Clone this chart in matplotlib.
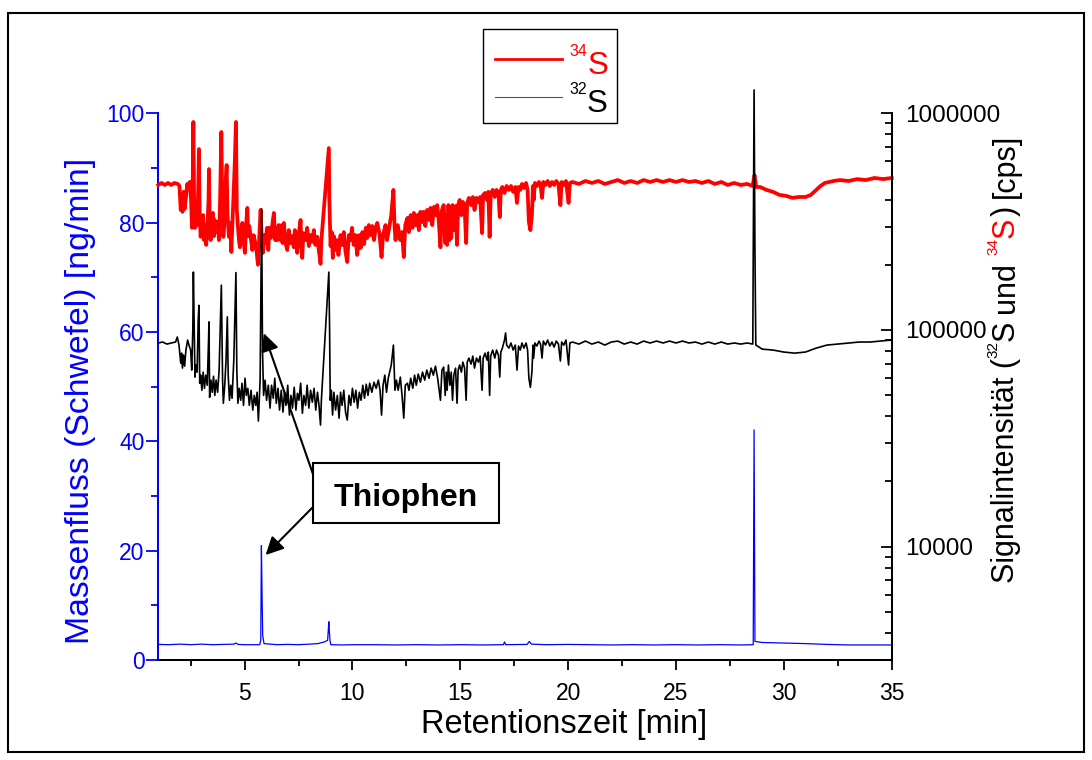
import matplotlib
matplotlib.use("Agg")
import matplotlib.pyplot as plt
from matplotlib.patches import Rectangle
from matplotlib.lines import Line2D
from matplotlib.ticker import MultipleLocator, LogLocator, FuncFormatter, NullFormatter

W, H, DPI = 1092, 760, 100
plt.rcParams['font.family'] = ['Liberation Sans', 'DejaVu Sans']

# ---------------- data ----------------
# 34S trace (cps, right log axis)
t_34S = [1.00, 1.15, 1.30, 1.45, 1.60, 1.75, 1.90, 1.98, 2.04, 2.08, 2.12, 2.17, 2.22, 2.28, 2.34,
         2.40, 2.46, 2.52, 2.56, 2.60, 2.626, 2.66, 2.70, 2.75, 2.80, 2.85, 2.885, 2.92, 2.964,
         3.00, 3.04, 3.08, 3.117, 3.17, 3.22, 3.27, 3.33, 3.348, 3.38, 3.427, 3.48, 3.53, 3.58,
         3.62, 3.70, 3.76, 3.811, 3.86, 3.923, 3.96, 4.015, 4.05, 4.10, 4.168, 4.21, 4.275, 4.33,
         4.386, 4.45, 4.55, 4.599, 4.64, 4.691, 4.74, 4.784, 4.83, 4.895, 4.95, 5.016, 5.07, 5.127,
         5.17, 5.22, 5.30, 5.358, 5.42, 5.50, 5.56, 5.618, 5.68, 5.743, 5.79, 5.85, 5.92, 5.975,
         6.04, 6.10, 6.15, 6.22, 6.30, 6.359, 6.42, 6.47, 6.516, 6.58, 6.669, 6.72, 6.76, 6.822,
         6.90, 6.98, 7.05, 7.13, 7.211, 7.28, 7.33, 7.40, 7.443, 7.50, 7.596, 7.63, 7.674, 7.72,
         7.827, 7.90, 7.98, 8.05, 8.12, 8.212, 8.28, 8.369, 8.44, 8.522, 8.56, 8.906, 8.93, 8.985,
         9.04, 9.09, 9.138, 9.20, 9.296, 9.35, 9.448, 9.52, 9.60, 9.68, 9.759, 9.83, 9.911, 9.98,
         10.06, 10.14, 10.222, 10.30, 10.38, 10.46, 10.54, 10.62, 10.685, 10.76, 10.838, 10.92,
         11.00, 11.08, 11.148, 11.25, 11.35, 11.42, 11.533, 11.60, 11.686, 11.80, 11.90, 11.95,
         11.996, 12.10, 12.22, 12.30, 12.38, 12.45, 12.55, 12.62, 12.70, 12.78, 12.85, 12.92,
         13.00, 13.08, 13.15, 13.22, 13.30, 13.38, 13.46, 13.55, 13.62, 13.70, 13.78, 13.85,
         13.93, 14.00, 14.08, 14.15, 14.23, 14.30, 14.35, 14.39, 14.45, 14.50, 14.54, 14.58,
         14.64, 14.70, 14.78, 14.85, 14.90, 14.97, 15.05, 15.12, 15.20, 15.27, 15.32, 15.40,
         15.50, 15.58, 15.66, 15.75, 15.84, 15.92, 16.01, 16.06, 16.15, 16.24, 16.30, 16.36,
         16.41, 16.50, 16.60, 16.68, 16.77, 16.83, 16.88, 16.95, 17.05, 17.15, 17.25, 17.35,
         17.45, 17.55, 17.63, 17.70, 17.78, 17.86, 17.95, 18.05, 18.12, 18.18, 18.25, 18.32,
         18.37, 18.40, 18.46, 18.55, 18.65, 18.72, 18.79, 18.85, 18.95, 19.05, 19.15, 19.25,
         19.35, 19.45, 19.55, 19.64, 19.70, 19.80, 19.90, 20.02, 20.08, 20.2, 20.5, 20.8, 21.1,
         21.4, 21.7, 22.0, 22.3, 22.6, 22.9, 23.2, 23.5, 23.8, 24.1, 24.4, 24.7, 25.0, 25.3, 25.6,
         25.9, 26.2, 26.5, 26.8, 27.1, 27.4, 27.7, 28.0, 28.3, 28.55, 28.64, 28.72, 28.9, 29.2,
         29.5, 29.8, 30.1, 30.4, 30.7, 31.0, 31.25, 31.5, 31.7, 31.9, 32.3, 32.6, 33.0, 33.4,
         33.8, 34.2, 34.6, 35.0]
cps_34S = [467e3, 477e3, 467e3, 477e3, 467e3, 477e3, 472e3, 462e3, 358e3, 420e3, 351e3, 434e3,
           362e3, 407e3, 472e3, 452e3, 482e3, 398e3, 296e3, 519e3, 912e3, 398e3, 296e3, 358e3,
           305e3, 443e3, 684e3, 339e3, 269e3, 315e3, 271e3, 339e3, 260e3, 305e3, 247e3, 289e3,
           398e3, 553e3, 339e3, 260e3, 305e3, 347e3, 271e3, 322e3, 283e3, 315e3, 260e3, 377e3,
           820e3, 398e3, 269e3, 296e3, 443e3, 577e3, 339e3, 269e3, 312e3, 229e3, 339e3, 609e3,
           912e3, 358e3, 299e3, 260e3, 241e3, 283e3, 312e3, 260e3, 227e3, 305e3, 366e3, 271e3,
           302e3, 260e3, 234e3, 274e3, 252e3, 229e3, 200e3, 266e3, 358e3, 271e3, 227e3, 274e3,
           252e3, 296e3, 234e3, 296e3, 266e3, 315e3, 347e3, 260e3, 296e3, 260e3, 305e3, 260e3,
           305e3, 252e3, 312e3, 252e3, 234e3, 289e3, 252e3, 271e3, 241e3, 289e3, 252e3, 227e3,
           274e3, 322e3, 247e3, 215e3, 280e3, 260e3, 296e3, 244e3, 274e3, 255e3, 289e3, 247e3,
           269e3, 234e3, 202e3, 260e3, 691e3, 398e3, 244e3, 283e3, 215e3, 271e3, 234e3, 260e3,
           222e3, 274e3, 247e3, 283e3, 229e3, 206e3, 274e3, 260e3, 296e3, 247e3, 274e3, 222e3,
           274e3, 239e3, 283e3, 249e3, 296e3, 266e3, 305e3, 274e3, 302e3, 260e3, 296e3, 312e3,
           280e3, 217e3, 274e3, 305e3, 260e3, 289e3, 339e3, 443e3, 305e3, 260e3, 305e3, 260e3,
           283e3, 217e3, 305e3, 329e3, 283e3, 339e3, 296e3, 347e3, 305e3, 339e3, 289e3, 351e3,
           315e3, 351e3, 302e3, 358e3, 322e3, 366e3, 305e3, 370e3, 339e3, 377e3, 322e3, 241e3,
           358e3, 377e3, 252e3, 339e3, 247e3, 377e3, 260e3, 339e3, 266e3, 377e3, 289e3, 373e3,
           247e3, 377e3, 398e3, 339e3, 390e3, 370e3, 252e3, 386e3, 407e3, 377e3, 411e3, 358e3,
           407e3, 390e3, 411e3, 280e3, 420e3, 429e3, 398e3, 434e3, 269e3, 420e3, 443e3, 411e3,
           443e3, 429e3, 332e3, 443e3, 457e3, 429e3, 462e3, 443e3, 462e3, 434e3, 457e3, 386e3,
           457e3, 443e3, 472e3, 452e3, 477e3, 443e3, 315e3, 289e3, 339e3, 462e3, 398e3, 477e3,
           462e3, 482e3, 467e3, 407e3, 482e3, 467e3, 487e3, 462e3, 482e3, 467e3, 487e3, 472e3,
           377e3, 482e3, 467e3, 487e3, 386e3, 477e3, 482e3, 472e3, 487e3, 477e3, 487e3, 472e3,
           482e3, 492e3, 477e3, 487e3, 477e3, 492e3, 482e3, 492e3, 482e3, 492e3, 482e3, 492e3,
           482e3, 487e3, 477e3, 487e3, 472e3, 482e3, 467e3, 477e3, 467e3, 472e3, 462e3, 519e3,
           457e3, 457e3, 443e3, 434e3, 420e3, 416e3, 407e3, 411e3, 411e3, 420e3, 443e3, 462e3,
           477e3, 487e3, 492e3, 487e3, 497e3, 492e3, 503e3, 497e3, 503e3]

# 32S trace (cps, right log axis)
t_32S = [1.00, 1.20, 1.40, 1.60, 1.80, 1.88, 1.96, 2.04, 2.08, 2.12, 2.17, 2.22, 2.28, 2.36, 2.42,
         2.50, 2.55, 2.60, 2.626, 2.66, 2.70, 2.74, 2.80, 2.85, 2.885, 2.92, 2.964, 3.02, 3.08,
         3.14, 3.20, 3.27, 3.33, 3.348, 3.38, 3.44, 3.50, 3.56, 3.62, 3.68, 3.75, 3.82, 3.923,
         3.98, 4.015, 4.08, 4.14, 4.20, 4.24, 4.30, 4.36, 4.42, 4.50, 4.599, 4.64, 4.69, 4.75,
         4.82, 4.88, 4.95, 5.02, 5.08, 5.15, 5.22, 5.30, 5.38, 5.45, 5.52, 5.58, 5.64, 5.72, 5.79,
         5.83, 5.88, 5.95, 6.02, 6.10, 6.18, 6.25, 6.33, 6.40, 6.47, 6.55, 6.62, 6.70, 6.78, 6.85,
         6.92, 7.00, 7.08, 7.15, 7.22, 7.30, 7.38, 7.45, 7.52, 7.60, 7.68, 7.75, 7.83, 7.90, 7.98,
         8.06, 8.14, 8.22, 8.30, 8.38, 8.45, 8.52, 8.56, 8.906, 8.94, 8.97, 9.02, 9.08, 9.14, 9.22,
         9.30, 9.38, 9.45, 9.52, 9.60, 9.68, 9.76, 9.84, 9.92, 10.00, 10.08, 10.16, 10.24, 10.32,
         10.40, 10.48, 10.56, 10.64, 10.72, 10.80, 10.90, 11.00, 11.10, 11.20, 11.28, 11.35, 11.42,
         11.50, 11.58, 11.66, 11.80, 11.90, 11.97, 12.04, 12.12, 12.22, 12.30, 12.38, 12.45, 12.55,
         12.62, 12.70, 12.80, 12.88, 12.96, 13.05, 13.15, 13.25, 13.35, 13.45, 13.55, 13.65, 13.75,
         13.85, 13.95, 14.08, 14.15, 14.23, 14.30, 14.35, 14.39, 14.45, 14.52, 14.58, 14.64, 14.70,
         14.78, 14.85, 14.90, 14.97, 15.05, 15.12, 15.20, 15.27, 15.32, 15.40, 15.50, 15.58, 15.66,
         15.75, 15.84, 15.92, 16.01, 16.06, 16.15, 16.24, 16.30, 16.36, 16.41, 16.50, 16.60, 16.68,
         16.77, 16.83, 16.88, 16.95, 17.05, 17.10, 17.15, 17.25, 17.35, 17.45, 17.55, 17.63, 17.70,
         17.78, 17.86, 17.95, 18.05, 18.12, 18.18, 18.25, 18.32, 18.37, 18.40, 18.46, 18.55, 18.65,
         18.72, 18.79, 18.85, 18.95, 19.05, 19.15, 19.25, 19.35, 19.45, 19.55, 19.64, 19.70, 19.80,
         19.90, 20.02, 20.08, 20.2, 20.5, 20.8, 21.1, 21.4, 21.7, 22.0, 22.3, 22.6, 22.9, 23.2,
         23.5, 23.8, 24.1, 24.4, 24.7, 25.0, 25.3, 25.6, 25.9, 26.2, 26.5, 26.8, 27.1, 27.4, 27.7,
         28.0, 28.3, 28.56, 28.62, 28.66, 28.70, 29.0, 29.5, 30.0, 30.5, 31.0, 31.5, 32.0, 32.5,
         33.0, 33.5, 34.0, 34.5, 35.0]
cps_32S = [87.1e3, 88.0e3, 86.1e3, 87.1e3, 88.0e3, 92.8e3, 85.2e3, 70.3e3, 78.2e3, 66.7e3, 76.6e3,
           68.1e3, 80.8e3, 89.9e3, 85.2e3, 80.8e3, 65.3e3, 100e3, 185e3, 111e3, 60.6e3, 68.9e3,
           63.9e3, 111e3, 130e3, 56.8e3, 61.9e3, 52.7e3, 63.9e3, 53.8e3, 61.9e3, 55.6e3, 89.9e3,
           109e3, 48.9e3, 58.7e3, 51.6e3, 61.2e3, 49.9e3, 58.7e3, 51.6e3, 65.3e3, 161e3, 58.7e3,
           45.9e3, 55.6e3, 72.6e3, 115e3, 61.9e3, 47.4e3, 55.6e3, 48.4e3, 72.6e3, 184e3, 65.3e3,
           45.9e3, 53.8e3, 47.4e3, 56.8e3, 44.9e3, 59.9e3, 49.9e3, 53.8e3, 44.9e3, 52.7e3, 42.7e3,
           49.9e3, 44.9e3, 51.6e3, 38.0e3, 58.7e3, 362e3, 80.8e3, 49.9e3, 58.7e3, 47.4e3, 55.6e3,
           43.6e3, 55.6e3, 48.4e3, 59.9e3, 45.9e3, 53.8e3, 42.7e3, 52.7e3, 41.8e3, 51.6e3, 44.9e3,
           55.6e3, 40.5e3, 49.9e3, 43.6e3, 54.4e3, 42.7e3, 51.0e3, 47.4e3, 56.8e3, 41.3e3, 49.9e3,
           44.9e3, 55.6e3, 43.6e3, 52.7e3, 46.4e3, 53.8e3, 42.7e3, 51.6e3, 44.9e3, 36.4e3, 47.4e3,
           185e3, 103e3, 47.4e3, 52.7e3, 40.5e3, 51.6e3, 42.7e3, 49.9e3, 39.2e3, 51.6e3, 44.9e3,
           52.7e3, 41.8e3, 38.4e3, 49.9e3, 44.9e3, 53.8e3, 46.4e3, 52.7e3, 43.6e3, 51.6e3, 47.4e3,
           55.6e3, 48.4e3, 56.2e3, 49.9e3, 56.8e3, 51.6e3, 57.4e3, 53.8e3, 58.7e3, 52.7e3, 40.5e3,
           55.6e3, 61.9e3, 51.6e3, 59.9e3, 68.9e3, 85.2e3, 52.7e3, 58.7e3, 52.7e3, 60.6e3, 49.9e3,
           39.2e3, 55.6e3, 56.8e3, 52.7e3, 59.9e3, 53.8e3, 61.9e3, 55.6e3, 62.6e3, 57.4e3, 63.9e3,
           58.7e3, 65.3e3, 59.9e3, 66.7e3, 61.9e3, 68.1e3, 59.9e3, 47.4e3, 65.3e3, 67.4e3, 49.9e3,
           63.9e3, 52.7e3, 68.9e3, 55.6e3, 63.9e3, 47.4e3, 61.9e3, 66.7e3, 45.9e3, 65.3e3, 68.9e3,
           63.9e3, 71.1e3, 66.7e3, 47.4e3, 71.1e3, 74.2e3, 69.6e3, 75.8e3, 66.7e3, 74.2e3, 71.1e3,
           75.8e3, 52.7e3, 74.2e3, 78.2e3, 72.6e3, 79.1e3, 49.9e3, 75.8e3, 80.8e3, 74.2e3, 80.8e3,
           76.6e3, 60.6e3, 79.1e3, 82.5e3, 89.9e3, 96.9e3, 85.2e3, 82.5e3, 87.1e3, 80.8e3, 85.2e3,
           65.3e3, 84.3e3, 80.8e3, 87.1e3, 82.5e3, 87.1e3, 80.8e3, 59.9e3, 54.4e3, 63.9e3, 85.2e3,
           74.2e3, 87.1e3, 84.3e3, 88.9e3, 86.1e3, 74.2e3, 88.9e3, 85.2e3, 89.9e3, 84.3e3, 88.0e3,
           83.4e3, 88.9e3, 86.1e3, 71.9e3, 88.0e3, 85.2e3, 89.9e3, 68.9e3, 87.1e3, 88.0e3, 86.1e3,
           88.9e3, 86.1e3, 88.0e3, 85.2e3, 88.0e3, 88.9e3, 86.1e3, 88.0e3, 86.1e3, 88.9e3, 87.1e3,
           88.9e3, 87.1e3, 88.9e3, 87.1e3, 88.9e3, 87.1e3, 88.0e3, 86.1e3, 88.0e3, 86.1e3, 88.0e3,
           86.1e3, 87.1e3, 86.1e3, 87.1e3, 86.1e3, 1281e3, 234e3, 85.2e3, 81.6e3, 80.8e3, 79.1e3,
           78.2e3, 79.1e3, 82.5e3, 85.2e3, 86.1e3, 87.1e3, 88.0e3, 88.0e3, 88.9e3, 89.9e3]

# sulfur mass flow (ng/min, left axis)
t_flow = [1.0, 1.5, 2.0, 2.5, 3.0, 3.5, 4.0, 4.5, 4.6, 4.7, 5.0, 5.5, 5.70, 5.75, 5.78, 5.81, 5.84,
          5.90, 6.2, 6.5, 7.0, 7.5, 8.0, 8.4, 8.7, 8.85, 8.906, 8.93, 8.96, 9.0, 9.5, 10.0, 11.0,
          12.0, 13.0, 14.0, 15.0, 16.0, 17.0, 17.05, 17.1, 18.1, 18.2, 18.3, 19.0, 20.0, 21.0,
          22.0, 23.0, 24.0, 25.0, 26.0, 27.0, 28.0, 28.58, 28.62, 28.66, 29.0, 30.0, 31.0, 32.0,
          33.0, 34.0, 35.0]
flow = [2.85, 2.8, 2.9, 2.8, 2.9, 2.8, 2.85, 2.9, 3.1, 2.85, 2.8, 2.8, 2.8, 3.6, 20.9, 12.0, 4.5,
        3.0, 2.9, 2.8, 2.85, 2.8, 2.9, 3.0, 3.3, 3.6, 7.0, 5.2, 3.6, 2.8, 2.75, 2.8, 2.8, 2.75,
        2.8, 2.75, 2.8, 2.75, 2.8, 3.3, 2.8, 2.85, 3.4, 2.9, 2.8, 2.85, 2.8, 2.75, 2.8, 2.75, 2.8,
        2.75, 2.8, 2.75, 2.8, 42.1, 3.4, 3.2, 3.1, 3.0, 2.85, 2.75, 2.75, 2.75]

x_ticks = [5, 10, 15, 20, 25, 30, 35]
flow_ticks = [0, 20, 40, 60, 80, 100]
cps_ticks = [1e4, 1e5, 1e6]

# annotation targets: (time, value)
thiophen_32S = (5.896, 96.6e3)
thiophen_flow = (5.975, 19.2)


def fx(x):
    return x / W


def fy(y):
    return 1 - y / H


fig = plt.figure(figsize=(W / DPI, H / DPI), dpi=DPI)
ax = fig.add_axes([fx(158.3), fy(660), (891.7 - 158.3) / W, (660 - 113.3) / H])
ax2 = ax.twinx()

# traces
ax2.plot(t_34S, cps_34S, color='#ff0000', lw=2.7, clip_on=False, zorder=2)
ax2.plot(t_32S, cps_32S, color='black', lw=1.2, clip_on=False, zorder=3)
ax.plot(t_flow, flow, color='#0000ff', lw=0.9, clip_on=False)

# left / bottom axes
ax.set_xlim(1, 35)
ax.set_ylim(0, 100)
ax.set_xticks(x_ticks)
ax.xaxis.set_minor_locator(MultipleLocator(2.5))
ax.set_yticks(flow_ticks)
ax.yaxis.set_minor_locator(MultipleLocator(10))
for s in ('top', 'right'):
    ax.spines[s].set_visible(False)
ax.spines['left'].set_color('#0000ff')
ax.spines['left'].set_linewidth(1.45)
ax.spines['bottom'].set_linewidth(1.45)
ax.tick_params(axis='x', which='major', direction='out', length=7.2, width=1.3, pad=8.5,
               labelsize=16.5)
ax.tick_params(axis='x', which='minor', direction='out', length=4.3, width=1.3)
ax.tick_params(axis='y', which='major', direction='out', length=8.4, width=1.3, pad=1.5,
               labelsize=16.5, colors='#0000ff')
ax.tick_params(axis='y', which='minor', direction='out', length=4.8, width=1.3, colors='#0000ff')

# right log axis
ax2.set_yscale('log')
ax2.set_ylim(3000, 1e6)
ax2.set_yticks(cps_ticks)
ax2.yaxis.set_major_formatter(FuncFormatter(lambda v, p: f'{v:.0f}'))
ax2.yaxis.set_minor_locator(LogLocator(base=10, subs=range(2, 10), numticks=20))
ax2.yaxis.set_minor_formatter(NullFormatter())
for s in ('top', 'left', 'bottom'):
    ax2.spines[s].set_visible(False)
ax2.spines['right'].set_linewidth(1.45)
ax2.tick_params(axis='y', which='major', direction='in', length=8, width=1.3, pad=9.6,
                labelsize=17.5)
ax2.tick_params(axis='y', which='minor', direction='in', length=5, width=1.3)

# axis titles
fig.text(fx(564.5), fy(733), 'Retentionszeit [min]', ha='center', va='baseline',
         fontsize=23.5)
fig.text(fx(89), fy(401), 'Massenfluss (Schwefel) [ng/min]', color='#0000ff', rotation=90,
         rotation_mode='anchor', ha='center', va='baseline', fontsize=24.3)

renderer = fig.canvas.get_renderer()


def text_run(x, y, runs, rotation=0):
    """Draw consecutive text pieces starting at pixel (x, y), origin bottom-left."""
    pos = 0.0
    for s, color, size, rise, gap in runs:
        pos += gap
        if rotation == 0:
            px, py = x + pos, y + rise
        else:
            px, py = x - rise, y + pos
        t = fig.text(px / W, py / H, s, color=color, fontsize=size, rotation=rotation,
                     rotation_mode='anchor', ha='left', va='baseline')
        bb = t.get_window_extent(renderer)
        pos += bb.width if rotation == 0 else bb.height


RL = 22.0
SUP = 11.0
SP = 7.5
text_run(1014, H - 583, [
    ('Signalintensität (', 'black', RL, 0, 0),
    ('32', 'black', SUP, 17, 0),
    ('S', 'black', RL, 0, 0),
    ('und', 'black', RL, 0, SP),
    ('34', '#ff0000', SUP, 17, SP),
    ('S', '#ff0000', RL, 0, 0),
    (')', 'black', RL, 0, 1),
    ('[cps]', 'black', RL, 0, SP),
], rotation=90)

# legend
fig.add_artist(Rectangle((fx(482.7), fy(123.3)), (616.7 - 482.7) / W, (123.3 - 29.3) / H,
                         transform=fig.transFigure, facecolor='white', edgecolor='black',
                         lw=1.0))
fig.add_artist(Line2D([fx(495), fx(561.7)], [fy(59.3), fy(59.3)], transform=fig.transFigure,
                      color='#ff0000', lw=2.0))
fig.add_artist(Line2D([fx(495), fx(561.7)], [fy(97.3), fy(97.3)], transform=fig.transFigure,
                      color='#555555', lw=0.8))
text_run(569.3, H - 74.3, [('34', '#ff0000', 11.5, 18, 0), ('S', '#ff0000', 22.5, 0, 0)])
text_run(569.3, H - 111.7, [('32', 'black', 11.5, 18, 0), ('S', 'black', 22.5, 0, 0)])

# Thiophen annotation
arrow = dict(arrowstyle='-|>', color='black', lw=1.5, mutation_scale=27, shrinkA=0, shrinkB=0)
ax2.annotate('', xy=thiophen_32S, xycoords='data', xytext=(314, H - 477),
             textcoords='figure pixels', arrowprops=arrow, annotation_clip=False)
ax.annotate('', xy=thiophen_flow, xycoords='data', xytext=(313, H - 507),
            textcoords='figure pixels', arrowprops=arrow, annotation_clip=False)
fig.add_artist(Rectangle((fx(313), fy(523)), (499 - 313) / W, (523 - 463) / H,
                         transform=fig.transFigure, facecolor='white', edgecolor='black',
                         lw=1.5, zorder=5))
fig.text(fx(406), fy(506), 'Thiophen', ha='center', va='baseline', fontsize=23,
         fontweight='bold', zorder=6)

# outer frame
fig.add_artist(Rectangle((fx(8.3), fy(752)), (1084 - 8.3) / W, (752 - 13.3) / H,
                         transform=fig.transFigure, fill=False, edgecolor='black', lw=1.5))

fig.savefig('out.png', dpi=DPI)
